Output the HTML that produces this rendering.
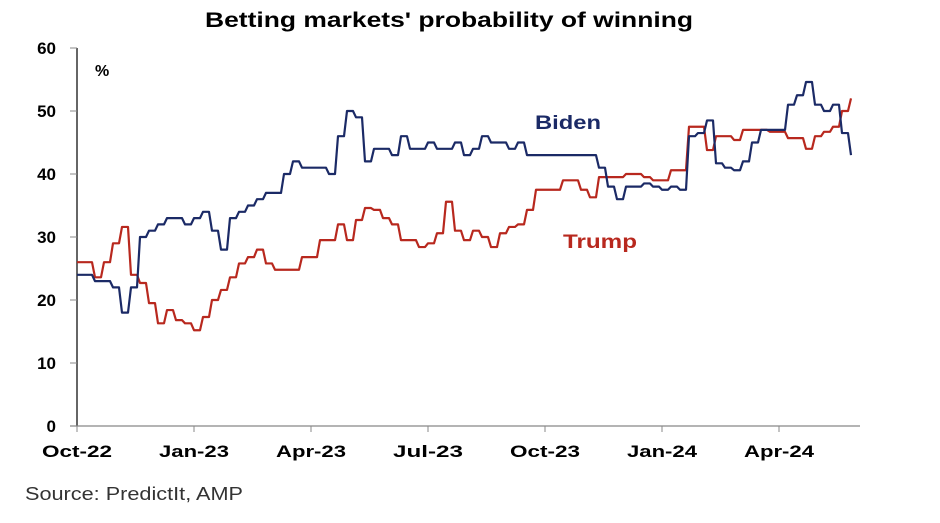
<!DOCTYPE html>
<html><head><meta charset="utf-8"><style>
body{margin:0;background:#fff;width:940px;height:518px;overflow:hidden;font-family:"Liberation Sans",Arial,sans-serif}
</style></head><body>
<svg width="940" height="518">
<text x="205" y="27" textLength="488" lengthAdjust="spacingAndGlyphs" font-size="21" font-weight="bold" fill="#000">Betting markets' probability of winning</text>
<g id="axes"></g>
<g id="series"></g>
<text x="95" y="76" font-size="16" font-weight="bold">%</text>
<text x="535" y="129" textLength="66" lengthAdjust="spacingAndGlyphs" font-size="19" font-weight="bold" fill="#1b2a66">Biden</text>
<text x="563" y="248" textLength="74" lengthAdjust="spacingAndGlyphs" font-size="19" font-weight="bold" fill="#b8281e">Trump</text>
<text x="25" y="500" textLength="218" lengthAdjust="spacingAndGlyphs" font-size="18" fill="#333">Source: PredictIt, AMP</text>
</svg>
<script>
const yTicks=[0,10,20,30,40,50,60];
const xLabels=["Oct-22","Jan-23","Apr-23","Jul-23","Oct-23","Jan-24","Apr-24"];
const biden=[24,24,23,23,22,18,22,30,31,32,33,33,32,33,34,31,28,33,34,35,36,37,37,40,42,41,41,41,40,46,50,49,42,44,44,43,46,44,44,45,44,44,45,43,44,46,45,45,44,45,43,43,43,43,43,43,43,43,41,38,36,38,38,38.5,38,37.5,38,37.5,46,46.5,48.5,41.7,41,40.6,42,45,47,47,47,51,52.5,54.6,51,50,51,46.5,43];
const trump=[26,26,23.6,26,29,31.6,24,22.7,19.5,16.3,18.4,16.8,16.3,15.2,17.3,20,21.6,23.6,25.8,26.8,28,25.8,24.8,24.8,24.8,26.8,26.8,29.5,29.5,32,29.5,32.7,34.6,34.3,33,32,29.5,29.5,28.4,29,30.6,35.6,31,29.5,31,30,28.4,30.6,31.6,32,34.3,37.5,37.5,37.5,39,39,37.5,36.3,39.5,39.5,39.5,40,40,39.5,39,39,40.6,40.6,47.5,47.5,43.8,46,46,45.4,47,47,47,46.7,46.7,45.7,45.7,44,46,46.7,47.5,50,52];
const x0=77,wk=9,qPx=117;
const X=i=>x0+i*wk, Y=v=>426-v*6.3;
const NS="http://www.w3.org/2000/svg";
const ax=document.getElementById('axes'), se=document.getElementById('series');
function mk(tag,attrs,parent){const e=document.createElementNS(NS,tag);for(const k in attrs)e.setAttribute(k,attrs[k]);parent.appendChild(e);return e;}
const yl=mk('line',{x1:x0,y1:Y(60),x2:x0,y2:Y(0),stroke:'#000','stroke-width':1.2},ax);


const xl=mk('line',{x1:70,y1:Y(0),x2:860,y2:Y(0),stroke:'#888','stroke-width':1.2},ax);


yTicks.forEach(v=>{
 mk('line',{x1:70,y1:Y(v),x2:x0,y2:Y(v),stroke:'#888'},ax);
 const t=mk('text',{x:56,y:Y(v)+6,'text-anchor':'end','font-size':17,'font-weight':'bold'},ax);t.textContent=v;
 
 
});
xLabels.forEach((s,i)=>{
 const x=x0+i*qPx;
 mk('line',{x1:x,y1:Y(0),x2:x,y2:Y(0)+6,stroke:'#888'},ax);
 const t=mk('text',{x:x-35,y:457,textLength:70,lengthAdjust:'spacingAndGlyphs','font-size':17,'font-weight':'bold'},ax);t.textContent=s;
 
 
});
function line(d,c,name){
 let pts=[];
 d.forEach((v,i)=>{ if(i>0) pts.push((X(i)-3)+','+Y(d[i-1])); pts.push(X(i)+','+Y(v)); });
 const p=mk('polyline',{points:pts.join(' '),fill:'none',stroke:c,'stroke-width':2.2,'stroke-linejoin':'round'},se);
 
 
}
line(trump,'#b8281e','trump-line');
line(biden,'#1b2a66','biden-line');
</script>
</body></html>
